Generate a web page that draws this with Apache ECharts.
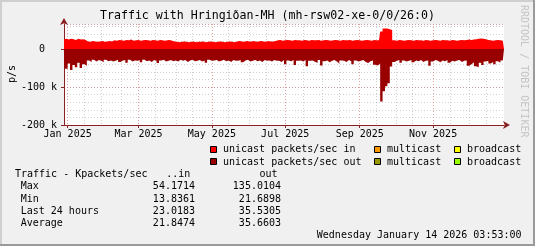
<!DOCTYPE html>
<html><head><meta charset="utf-8">
<script src="https://cdn.jsdelivr.net/npm/echarts@6/dist/echarts.min.js"></script>
<style>html,body{margin:0;padding:0;background:#F0F0F0}#c{width:535px;height:246px}</style>
</head><body><div id="c"></div>
<script>
// x positions are days since 1 Jan 2025; each value covers a 2-day step
const startDay = -3;
const stepDays = 2;
const monthTickDays = [0, 59, 120, 181, 243, 304];
const monthTickLabels = ['Jan 2025', 'Mar 2025', 'May 2025', 'Jul 2025', 'Sep 2025', 'Nov 2025'];
const minorGridDays = [14,28,45,73,90,104,134,151,165,196,212,226,257,273,287,318,334,348];

// unicast packets/sec in (kpps)
const inValues = [
  26,27,25,27,26,24,27,25,26,24,
  20,19,21,20,19,20,21,19,20,21,20,
  23,22,24,23,22,24,23,25,22,23,24,22,23,24,23,22,24,23,22,24,23,22,23,24,22,
  20,19,18,19,20,19,18,19,20,18,19,19,20,18,19,20,19,18,19,20,19,18,19,20,19,18,
  20,21,20,19,21,20,20,21,19,20,21,20,19,21,20,20,21,
  23,24,22,23,24,23,22,24,23,23,22,24,23,22,24,23,23,24,22,23,24,23,22,23,24,23,22,24,23,23,24,22,23,24,23,22,23,24,23,22,24,23,23,
  46,54,54,52,50,
  23,22,24,23,22,23,24,23,22,24,23,23,22,24,23,22,23,24,23,22,24,23,23,22,24,23,22,23,24,23,24,25,24,25,26,
  27,28,27,26,24,23,22,23,24,23,22,23
];
// unicast packets/sec out (kpps, drawn below zero)
const outValues = [
  45,52,38,55,42,48,36,50,40,44,
  30,34,28,33,29,31,35,28,32,30,33,
  31,28,34,30,29,36,28,33,30,31,29,35,28,32,30,34,29,31,37,30,28,33,31,29,32,
  30,33,28,31,29,34,30,28,32,31,29,33,30,36,28,31,30,29,33,31,28,32,30,34,29,31,
  31,29,35,30,28,33,31,29,32,30,34,29,31,30,33,29,31,
  31,34,29,40,30,32,29,42,31,30,33,29,45,31,30,34,36,29,43,32,30,35,31,29,33,38,30,31,34,29,32,40,30,33,31,29,34,37,32,30,41,43,38,
  138,111,98,90,46,
  34,31,29,36,30,33,31,29,35,30,32,29,34,31,30,44,33,29,31,35,30,32,29,36,31,33,30,29,34,31,30,44,40,35,45,
  48,36,42,33,31,38,34,40,32,36,30,35
];

const legendRows = [
  [{name:'unicast packets/sec in', color:'#FF0000'}, {name:'multicast', color:'#FF9900'}, {name:'broadcast', color:'#FFFF00'}],
  [{name:'unicast packets/sec out', color:'#990000'}, {name:'multicast', color:'#999900'}, {name:'broadcast', color:'#99FF00'}]
];
const statLabels = ['Max', 'Min', 'Last 24 hours', 'Average'];
const statIn = ['54.1714', '13.8361', '23.0183', '21.8474'];
const statOut = ['135.0104', '21.6898', '35.5305', '35.6603'];

const MONO = 'DejaVu Sans Mono';
const inData = inValues.map((v, i) => [startDay + stepDays * i, v * 1000]);
const outData = outValues.map((v, i) => [startDay + stepDays * i, -v * 1000]);

const chart = echarts.init(document.getElementById('c'), null, {renderer: 'canvas'});
const graphics = [];
// frame
graphics.push({type:'line', shape:{x1:0, y1:1, x2:535, y2:1}, style:{stroke:'#CFCFCF', lineWidth:2}});
graphics.push({type:'line', shape:{x1:1, y1:0, x2:1, y2:246}, style:{stroke:'#CFCFCF', lineWidth:2}});
graphics.push({type:'line', shape:{x1:0, y1:245, x2:535, y2:245}, style:{stroke:'#9A9A9A', lineWidth:2}});
graphics.push({type:'line', shape:{x1:534, y1:0, x2:534, y2:246}, style:{stroke:'#9A9A9A', lineWidth:2}});
graphics.push({type:'text', left:'center', top:10, style:{text:'Traffic with Hringiðan-MH (mh-rsw02-xe-0/0/26:0)', font:'11.6px ' + MONO, fill:'#000'}});
graphics.push({type:'text', x:529, y:5, rotation:-Math.PI/2, style:{text:'RRDTOOL / TOBI OETIKER', font:'10px ' + MONO, fill:'#C4C4C4'}});
graphics.push({type:'text', x:12, y:74, rotation:Math.PI/2, style:{text:'p/s', font:'10px ' + MONO, fill:'#000', textAlign:'center', textVerticalAlign:'middle'}});
const legX = [210.5, 374.5, 454.5];
const legY = [149.6, 162.2];
legendRows.forEach((row, r) => row.forEach((it, c) => {
  graphics.push({type:'rect', shape:{x:legX[c], y:Math.round(legY[r]) - 3.5, width:6, height:6}, style:{fill:it.color, stroke:'#000', lineWidth:1}});
  graphics.push({type:'text', x:legX[c] + 12.5, y:legY[r], style:{text:it.name, font:'10px ' + MONO, fill:'#000', textVerticalAlign:'middle'}});
}));
graphics.push({type:'text', x:15, y:174.5, style:{text:'Traffic - Kpackets/sec', font:'10px ' + MONO, fill:'#000', textVerticalAlign:'middle'}});
graphics.push({type:'text', x:190.3, y:174.5, style:{text:'..in', font:'10px ' + MONO, fill:'#000', textAlign:'right', textVerticalAlign:'middle'}});
graphics.push({type:'text', x:277.6, y:174.5, style:{text:'out', font:'10px ' + MONO, fill:'#000', textAlign:'right', textVerticalAlign:'middle'}});
const rowY = [186.7, 199, 211.3, 223.6];
statLabels.forEach((l, i) => {
  graphics.push({type:'text', x:20.7, y:rowY[i], style:{text:l, font:'10px ' + MONO, fill:'#000', textVerticalAlign:'middle'}});
  graphics.push({type:'text', x:195, y:rowY[i], style:{text:statIn[i], font:'10px ' + MONO, fill:'#000', textAlign:'right', textVerticalAlign:'middle'}});
  graphics.push({type:'text', x:281, y:rowY[i], style:{text:statOut[i], font:'10px ' + MONO, fill:'#000', textAlign:'right', textVerticalAlign:'middle'}});
});
graphics.push({type:'text', x:521.5, y:235.5, style:{text:'Wednesday January 14 2026 03:53:00', font:'10px ' + MONO, fill:'#000', textAlign:'right', textVerticalAlign:'middle'}});

const option = {
  backgroundColor: '#F0F0F0',
  animation: false,
  grid: {left: 64, right: 31, top: 24, bottom: 121, show: true, backgroundColor: '#FFFFFF', borderWidth: 0, outerBoundsMode: 'none', containLabel: false},
  xAxis: [
    {type:'value', min:-3, max:363,
     axisLine:{show:true, onZero:false, lineStyle:{color:'#8B2020'}, symbol:['none','arrow'], symbolSize:[6,7], symbolOffset:[0,6]},
     axisTick:{show:true, length:3, inside:false, customValues:monthTickDays, lineStyle:{color:'#8B2020'}},
     axisLabel:{customValues:monthTickDays, margin:4, fontFamily:MONO, fontSize:10, color:'#000',
       formatter:(v)=>monthTickLabels[monthTickDays.indexOf(Math.round(v))] || ''},
     splitLine:{show:true, lineStyle:{color:'rgba(224,120,120,0.7)', type:[1,2]}}},
    {type:'value', min:-3, max:363, show:true, position:'bottom',
     axisLine:{show:false, onZero:false}, axisLabel:{show:false},
     axisTick:{show:false, customValues:minorGridDays},
     splitLine:{show:true, lineStyle:{color:'rgba(150,150,150,0.45)', type:[1,2]}}}
  ],
  yAxis: [
    {type:'value', min:-200000, max:66000, interval:100000,
     axisLine:{show:true, onZero:false, lineStyle:{color:'#8B2020'}, symbol:['none','arrow'], symbolSize:[6,7], symbolOffset:[0,6]},
     axisTick:{show:true, length:3, lineStyle:{color:'#8B2020'}},
     axisLabel:{showMaxLabel:false, margin:7, fontFamily:MONO, fontSize:10, color:'#000',
       formatter:(v)=> v === 0 ? '0  ' : (v/1000) + ' k'},
     splitLine:{show:true, lineStyle:{color:'rgba(224,120,120,0.7)', type:[1,2]}}},
    {type:'value', min:-200000, max:66000, interval:20000, position:'left',
     axisLine:{show:false, onZero:false}, axisLabel:{show:false}, axisTick:{show:false},
     splitLine:{show:true, lineStyle:{color:'rgba(150,150,150,0.45)', type:[1,2]}}}
  ],
  series: [
    {type:'line', name:'unicast packets/sec in', data:inData, step:'middle', symbol:'none',
     lineStyle:{width:0}, areaStyle:{color:'#FF0000', opacity:1}, z:3},
    {type:'line', name:'unicast packets/sec out', data:outData, step:'middle', symbol:'none',
     lineStyle:{width:0}, areaStyle:{color:'#990000', opacity:1}, z:3}
  ],
  graphic: graphics
};
chart.setOption(option);
</script></body></html>
